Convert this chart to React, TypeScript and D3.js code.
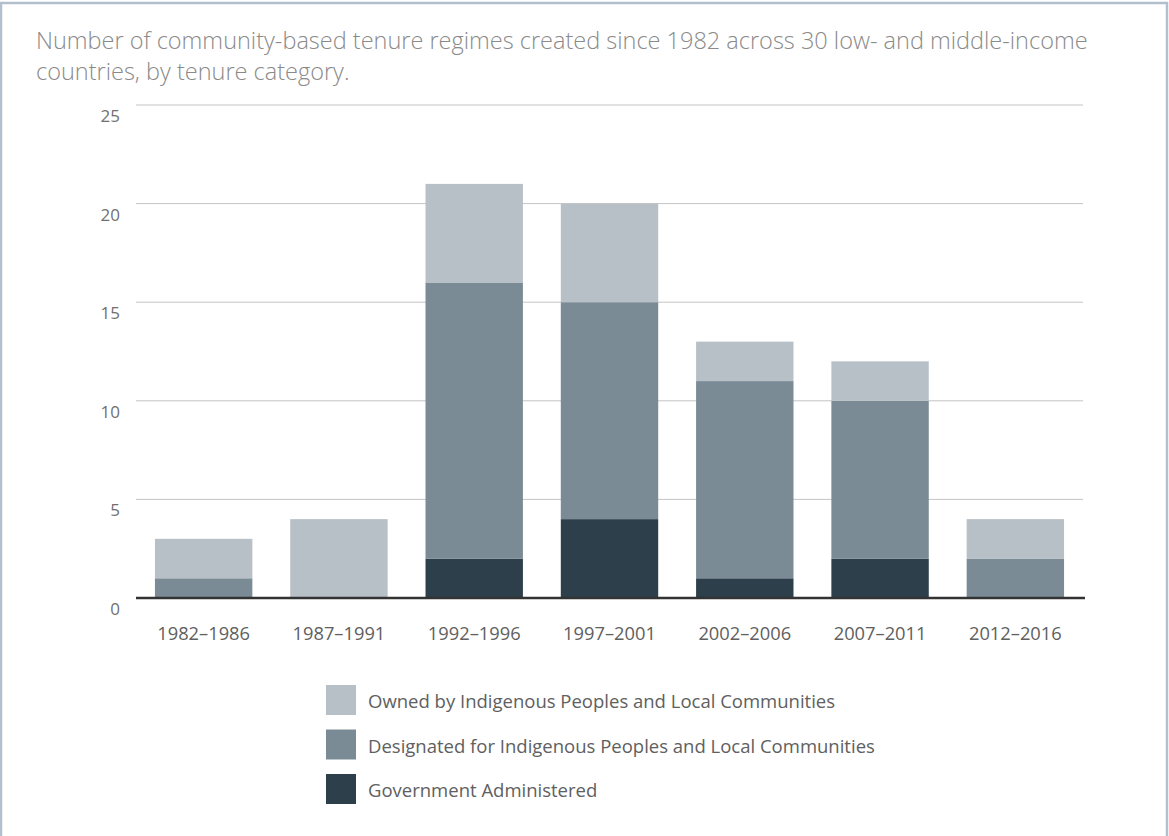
import React from "react";
import * as d3 from "d3";

const periods = ["1982–1986", "1987–1991", "1992–1996", "1997–2001", "2002–2006", "2007–2011", "2012–2016"];
const government = [0, 0, 2, 4, 1, 2, 0];
const designated = [1, 0, 14, 11, 10, 8, 2];
const owned = [2, 4, 5, 5, 2, 2, 2];
const yTicks = [0, 5, 10, 15, 20, 25];
const seriesNames = [
  "Owned by Indigenous Peoples and Local Communities",
  "Designated for Indigenous Peoples and Local Communities",
  "Government Administered",
];
const titleLines = [
  "Number of community-based tenure regimes created since 1982 across 30 low- and middle-income",
  "countries, by tenure category.",
];

const W = 1169;
const H = 836;
const colors: Record<string, string> = {
  government: "#2d3f4b",
  designated: "#7b8b95",
  owned: "#b8c0c7",
};
const FONT = "'Open Sans', 'Noto Sans', sans-serif";

export default function App() {
  const x = d3.scaleBand<string>().domain(periods).range([136, 1083]).paddingInner(0.28).paddingOuter(0.14);
  const y = d3.scaleLinear().domain([0, 25]).range([598, 105]);

  const rows = periods.map((p, i) => ({
    period: p,
    government: government[i],
    designated: designated[i],
    owned: owned[i],
  }));
  const keys = ["government", "designated", "owned"];
  const stacked = d3.stack<any>().keys(keys)(rows);

  const legendKeys = ["owned", "designated", "government"];

  return (
    <svg width={W} height={H} style={{ position: "absolute", left: 0, top: 0, background: "#fff" }} fontFamily={FONT}>
      <rect x={1} y={3} width={1166} height={H + 10} fill="#fff" stroke="#b3bfcd" strokeWidth={2.5} />
      {titleLines.map((t, i) => (
        <text key={i} x={36} y={49 + i * 31} fontSize={23.5} fill="#8a8a8a" fontWeight={300}>
          {t}
        </text>
      ))}
      {yTicks.map((t) => (
        <g key={t}>
          {t > 0 && <line x1={136} x2={1083} y1={y(t)} y2={y(t)} stroke="#c4c4c4" strokeWidth={1} />}
          <text x={120} y={y(t) + 17} fontSize={17} fill="#707070" textAnchor="end">
            {t}
          </text>
        </g>
      ))}
      {stacked.map((s) => (
        <g key={s.key}>
          {s.map((d, i) =>
            d[1] - d[0] > 0 ? (
              <rect
                key={i}
                x={x(periods[i])}
                y={y(d[1])}
                width={x.bandwidth()}
                height={y(d[0]) - y(d[1])}
                fill={colors[s.key]}
              />
            ) : null
          )}
        </g>
      ))}
      <line x1={136} x2={1085} y1={y(0)} y2={y(0)} stroke="#333" strokeWidth={2.5} />
      {periods.map((p) => (
        <text key={p} x={(x(p) as number) + x.bandwidth() / 2} y={640} fontSize={18.3} fill="#606060" textAnchor="middle">
          {p}
        </text>
      ))}
      {legendKeys.map((k, i) => (
        <g key={k} transform={`translate(326, ${685 + i * 44.5})`}>
          <rect width={30} height={30} fill={colors[k]} />
          <text x={42} y={23} fontSize={18.5} fill="#606060">
            {seriesNames[i]}
          </text>
        </g>
      ))}
    </svg>
  );
}
